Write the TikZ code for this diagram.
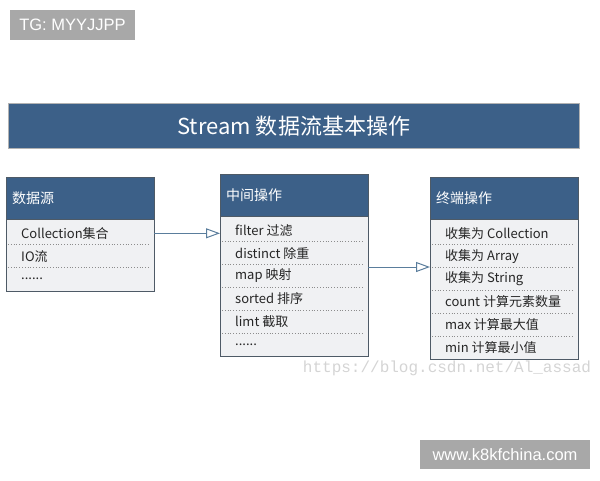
\documentclass[tikz,border=0pt]{standalone}
\usepackage{fontspec}
\setmainfont{Noto Sans CJK SC}
\newfontfamily\wmfont{Liberation Sans}
\newfontfamily\urlfont{Liberation Mono}
\usetikzlibrary{arrows.meta,positioning}
\definecolor{headblue}{HTML}{3C6088}
\definecolor{bodygray}{HTML}{F0F1F3}
\definecolor{boxline}{HTML}{4E5A66}
\definecolor{flowline}{HTML}{5A7D9C}
\definecolor{markgray}{HTML}{A8A8A8}
\newcommand\moredots{......}

\begin{document}
\begin{tikzpicture}[x=1pt,y=-1pt]

\tikzset{
    boxhead/.style={draw=boxline, fill=headblue, text=white, anchor=north west, minimum width=148pt, minimum height=42pt, text width=136pt, inner xsep=6pt, font=\fontsize{14}{16}\selectfont},
    boxbody/.style={draw=boxline, fill=bodygray, anchor=north west, minimum width=148pt, inner sep=0pt},
    boxitem/.style={anchor=west, inner sep=0pt, text=black!85, font=\fontsize{13}{15}\selectfont},
    rowline/.style={draw=black!45, dotted, line width=0.8pt},
    flowarrow/.style={draw=flowline, line width=1pt, -{Triangle[open, length=14pt, width=10pt]}},
    wmbox/.style={fill=markgray, text=white, inner sep=0pt, font=\wmfont\fontsize{16.5}{18}\selectfont}
}
\useasboundingbox (0,0) rectangle (600,480);

\node[wmbox, minimum width=125pt, minimum height=30pt] (tg) at (72.5,25) {TG: MYYJJPP};

\node[draw=black!30, fill=headblue, text=white, anchor=north west, minimum width=571pt, minimum height=45pt, font=\fontsize{22}{24}\selectfont] (title) at (8,103) {Stream 数据流基本操作};

\node[boxhead] (srchead) at (6,177) {数据源};
\node[boxbody, minimum height=71.4pt] (srcbody) at (srchead.south west) {};
\foreach \t [count=\i] in {Collection集合, IO流, \moredots}
    \node[boxitem] (src\i) at ([xshift=15pt, yshift={-2.5pt-22.8pt*(\i-0.5)}]srcbody.north west) {\t};
\foreach \i in {1,2}
    \draw[rowline] ([shift={(2pt,{-2.5pt-22.8pt*\i})}]srcbody.north west) -- ([shift={(-5pt,{-2.5pt-22.8pt*\i})}]srcbody.north east);

\node[boxhead] (midhead) at (220,174) {中间操作};
\node[boxbody, minimum height=139.8pt] (midbody) at (midhead.south west) {};
\foreach \t [count=\i] in {filter 过滤, distinct 除重, map 映射, sorted 排序, limt 截取, \moredots}
    \node[boxitem] (mid\i) at ([xshift=15pt, yshift={-2.5pt-22.8pt*(\i-0.5)}]midbody.north west) {\t};
\foreach \i in {1,2,3,4,5}
    \draw[rowline] ([shift={(2pt,{-2.5pt-22.8pt*\i})}]midbody.north west) -- ([shift={(-5pt,{-2.5pt-22.8pt*\i})}]midbody.north east);

\node[boxhead] (trmhead) at (430,177) {终端操作};
\node[boxbody, minimum height=139.8pt] (trmbody) at (trmhead.south west) {};
\foreach \t [count=\i] in {收集为 Collection, 收集为 Array, 收集为 String, count 计算元素数量, max 计算最大值, min 计算最小值}
    \node[boxitem] (trm\i) at ([xshift=15pt, yshift={-2.5pt-22.8pt*(\i-0.5)}]trmbody.north west) {\t};
\foreach \i in {1,2,3,4,5}
    \draw[rowline] ([shift={(2pt,{-2.5pt-22.8pt*\i})}]trmbody.north west) -- ([shift={(-5pt,{-2.5pt-22.8pt*\i})}]trmbody.north east);

\draw[flowarrow] (src1 -| srcbody.east) -- (src1 -| midbody.west);
\coordinate (turn) at (399,267);
\draw[flowarrow] (turn -| midbody.east) -- (turn -| trmbody.west);

\node[text=black!17, font=\urlfont\fontsize{16}{18}\selectfont] (csdn) at (447,368) {https://blog.csdn.net/Al\_assad};

\node[wmbox, minimum width=170pt, minimum height=29pt] (site) at (505,454.5) {www.k8kfchina.com};
\end{tikzpicture}
\end{document}
